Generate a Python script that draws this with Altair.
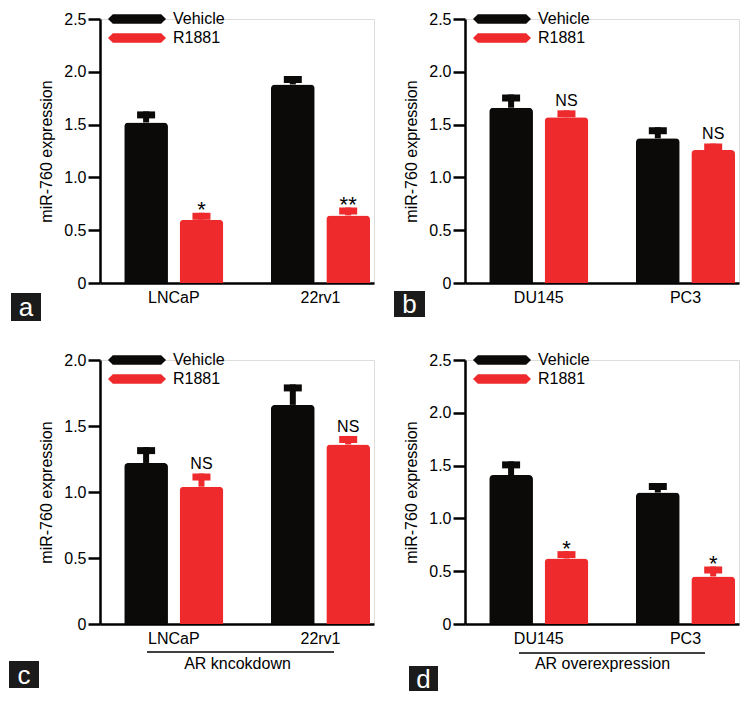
import altair as alt
import pandas as pd

GROUPS = ["Vehicle", "R1881"]
COLORS = ["#0c0909", "#ee2a2d"]
Y_TITLE = "miR-760 expression"

# panel a
a_cells = ["LNCaP", "22rv1"]
a_vehicle = [1.52, 1.88]
a_vehicle_err = [0.105, 0.08]
a_r1881 = [0.60, 0.64]
a_r1881_err = [0.065, 0.075]
a_sig = ["*", "**"]

# panel b
b_cells = ["DU145", "PC3"]
b_vehicle = [1.66, 1.37]
b_vehicle_err = [0.125, 0.105]
b_r1881 = [1.57, 1.26]
b_r1881_err = [0.065, 0.06]
b_sig = ["NS", "NS"]

# panel c
c_cells = ["LNCaP", "22rv1"]
c_vehicle = [1.22, 1.66]
c_vehicle_err = [0.12, 0.155]
c_r1881 = [1.04, 1.36]
c_r1881_err = [0.10, 0.065]
c_sig = ["NS", "NS"]
c_group_title = "AR kncokdown"

# panel d
d_cells = ["DU145", "PC3"]
d_vehicle = [1.41, 1.245]
d_vehicle_err = [0.13, 0.09]
d_r1881 = [0.62, 0.45]
d_r1881_err = [0.07, 0.095]
d_sig = ["*", "*"]
d_group_title = "AR overexpression"

W, H = 274, 264
FONT = "Liberation Sans"
HEX = "M-3,0L-2.5,-0.5L2.5,-0.5L3,0L2.5,0.5L-2.5,0.5Z"


def panel(cells, veh, veh_err, r, r_err, sig, ymax, letter, box,
          group_title=None, bracket=None, star=True):
    rows = []
    for i, c in enumerate(cells):
        rows.append(dict(cell=c, group="Vehicle", value=veh[i],
                         top=veh[i] + veh_err[i], sig=""))
        rows.append(dict(cell=c, group="R1881", value=r[i],
                         top=r[i] + r_err[i], sig=sig[i]))
    df = pd.DataFrame(rows)
    ticks = [k / 2 for k in range(int(round(ymax * 2)) + 1)]

    xaxis_kw = dict(labelAngle=0, ticks=False, domainWidth=2.5,
                    domainColor="black", labelFontSize=16, labelColor="black",
                    labelFont=FONT, labelPadding=6)
    if group_title:
        xaxis_kw.update(title=group_title, titleFontSize=16, titleFont=FONT,
                        titleFontWeight="normal", titleColor="black",
                        titlePadding=9)
    else:
        xaxis_kw.update(title=None)
    x = alt.X("cell:N", sort=cells,
              scale=alt.Scale(paddingInner=0.3245, paddingOuter=0.096, align=0.86),
              axis=alt.Axis(**xaxis_kw))
    xo = alt.XOffset("group:N", sort=GROUPS,
                     scale=alt.Scale(paddingInner=0.21, paddingOuter=0))
    y = alt.Y("value:Q", scale=alt.Scale(domain=[0, ymax], nice=False),
              axis=alt.Axis(values=ticks,
                            labelExpr="datum.value == 0 ? '0' : format(datum.value, '.1f')",
                            tickSize=12, tickWidth=2.5, tickColor="black",
                            domainWidth=2.5, domainColor="black",
                            labelFontSize=16, labelFont=FONT, labelColor="black",
                            labelPadding=2, grid=False, title=Y_TITLE,
                            titleFontSize=16, titleFont=FONT,
                            titleFontWeight="normal", titleColor="black",
                            titlePadding=9))
    cscale = alt.Scale(domain=GROUPS, range=COLORS)
    color = alt.Color("group:N", sort=GROUPS, scale=cscale,
                      legend=alt.Legend(title=None, orient="none", legendX=27,
                                        legendY=-10, symbolType=HEX,
                                        symbolSize=374, symbolStrokeWidth=0,
                                        symbolOpacity=1, labelFontSize=16,
                                        labelFont=FONT, labelColor="black",
                                        labelOffset=26, padding=0, rowPadding=1))
    color_nl = alt.Color("group:N", sort=GROUPS, scale=cscale, legend=None)

    base = alt.Chart(df)
    bars = base.mark_bar(cornerRadiusTopLeft=4, cornerRadiusTopRight=4).encode(
        x=x, xOffset=xo, y=y, color=color)
    stems = base.mark_rule(strokeWidth=6).encode(
        x=x, xOffset=xo, y="value:Q", y2="top:Q", color=color_nl)
    caps = base.mark_tick(thickness=7, size=18, yOffset=3.5, opacity=1).encode(
        x=x, xOffset=xo, y="top:Q", color=color_nl)
    if star:
        sig_mark = base.mark_text(fontSize=22, font=FONT, color="black",
                                  baseline="alphabetic", dy=4.6)
    else:
        sig_mark = base.mark_text(fontSize=16, font=FONT, color="black",
                                  baseline="alphabetic", dy=-4.3)
    sigs = sig_mark.transform_filter("datum.group == 'R1881'").encode(
        x=x, xOffset=xo, y="top:Q", text="sig:N")

    one = alt.Data(values=[{}])
    boxr = alt.Chart(one).mark_rect(color="#1b1b1b").encode(
        x=alt.value(box[0]), x2=alt.value(box[1]),
        y=alt.value(H + box[2]), y2=alt.value(H + box[3]))
    boxt = alt.Chart(one).mark_text(color="white", fontSize=26, font=FONT,
                                    align="center", baseline="middle").encode(
        x=alt.value((box[0] + box[1]) / 2),
        y=alt.value(H + (box[2] + box[3]) / 2 + 1),
        text=alt.value(letter))
    layers = [bars, stems, caps, sigs, boxr, boxt]
    if bracket:
        br = alt.Chart(one).mark_rule(color="black", strokeWidth=1.5).encode(
            x=alt.value(bracket[0]), x2=alt.value(bracket[1]),
            y=alt.value(H + bracket[2]))
        layers.append(br)
    return alt.layer(*layers).properties(width=W, height=H)


pa = panel(a_cells, a_vehicle, a_vehicle_err, a_r1881, a_r1881_err, a_sig,
           2.5, "a", (-89, -59, 10, 38), star=True)
pb = panel(b_cells, b_vehicle, b_vehicle_err, b_r1881, b_r1881_err, b_sig,
           2.5, "b", (-71, -40, 8, 34), star=False)
pc = panel(c_cells, c_vehicle, c_vehicle_err, c_r1881, c_r1881_err, c_sig,
           2.0, "c", (-91, -61, 37, 64), group_title=c_group_title,
           bracket=(47, 234, 28), star=False)
pd_ = panel(d_cells, d_vehicle, d_vehicle_err, d_r1881, d_r1881_err, d_sig,
            2.5, "d", (-56, -27, 42, 67), group_title=d_group_title,
            bracket=(54, 240, 29), star=True)

chart = alt.concat(pa, pb, pc, pd_, columns=2,
                   spacing={"row": 77, "column": 91}, bounds="flush").resolve_scale(
    color="independent", x="independent", y="independent",
    xOffset="independent").resolve_legend(color="independent").properties(
    padding=0).configure_view(stroke=None).configure(font=FONT)

chart.save("out.html", embed_options={"renderer": "svg", "actions": False})
